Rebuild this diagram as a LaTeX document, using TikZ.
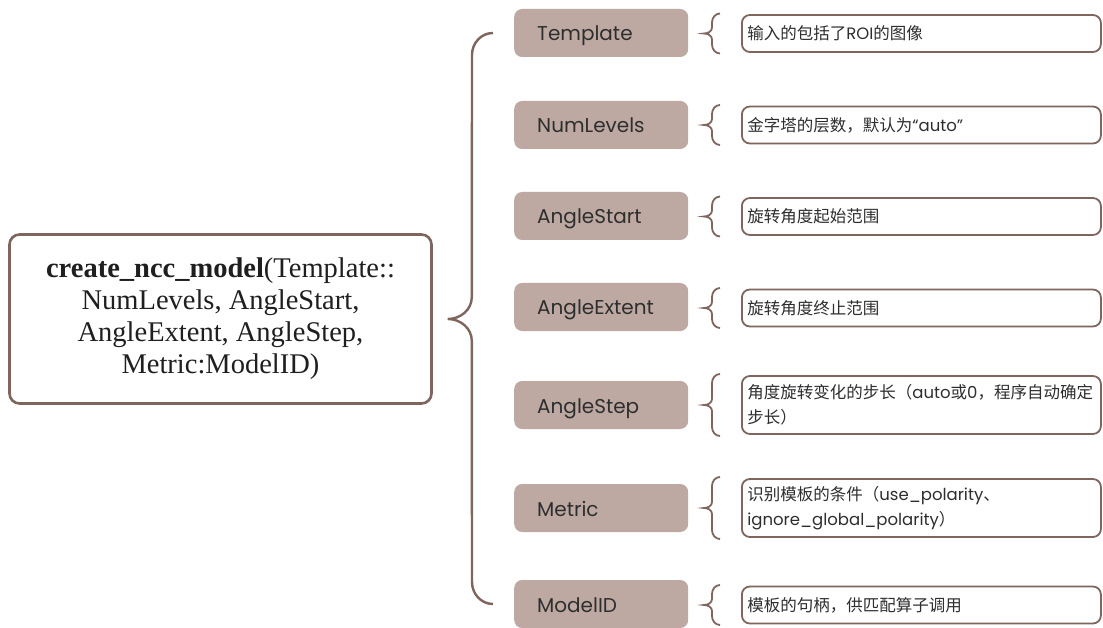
\documentclass[tikz,border=0pt]{standalone}
\usepackage{fontspec}
\setmainfont{Liberation Serif}
\newfontfamily\cjkfont{Noto Sans CJK SC}
\newfontfamily\popfont{Poppins}
\usetikzlibrary{calc}
\definecolor{rim}{HTML}{7E655D}
\definecolor{chip}{HTML}{BDA9A2}
\definecolor{ink}{HTML}{2E2E2E}
\newcommand{\la}[1]{{\popfont #1}}

\tikzset{
  mainbox/.style={draw=rim, line width=2.6pt, rounded corners=10pt, fill=white,
    minimum width=422pt, minimum height=169pt, align=center,
    font=\fontsize{28.5}{32}\selectfont, text=black!88},
  param/.style={fill=chip, rounded corners=8pt, text width=128pt, inner xsep=23pt,
    minimum height=48pt, align=left, font=\popfont\fontsize{20}{23}\selectfont,
    text height=18pt, text depth=2pt, text=ink, anchor=west},
  note/.style={draw=rim, line width=1.8pt, rounded corners=8pt, text width=348pt,
    inner xsep=5.5pt, align=left, font=\cjkfont\fontsize{16.5}{25}\selectfont,
    text=ink, anchor=west, minimum height=37pt},
  tallnote/.style={note, minimum height=58pt},
  bigbrace/.style={draw=rim, line width=2.4pt},
  smallbrace/.style={draw=rim, line width=1.8pt},
  pics/curly/.style={code={
    \draw[smallbrace] (8,-#1) to[out=180,in=90] (0,-#1+9) -- (0,-6)
      to[out=-90,in=0] (-8,0) to[out=0,in=90] (0,6) -- (0,#1-9)
      to[out=-90,in=180] (8,#1);
  }}
}

\begin{document}
\begin{tikzpicture}[x=1pt, y=-1pt]
\useasboundingbox[fill=white] (0,0) rectangle (1103,628);

% function signature
\node[mainbox] (main) at (220.5,319) {\textbf{create\_ncc\_model}(Template::\\
  NumLevels, AngleStart,\\ AngleExtent, AngleStep,\\ Metric:ModelID)};

% parameter chips
\node[param] (p1) at (514,33)  {Template};
\node[param] (p2) at (514,125) {NumLevels};
\node[param] (p3) at (514,216) {AngleStart};
\node[param] (p4) at (514,307) {AngleExtent};
\node[param] (p5) at (514,405) {AngleStep};
\node[param] (p6) at (514,508) {Metric};
\node[param] (p7) at (514,604) {ModelID};

% parameter descriptions
\node[note] (n1) at (741,33.5) {输入的包括了\la{ROI}的图像};
\node[note] (n2) at (741,125) {金字塔的层数，默认为\la{“auto”}};
\node[note] (n3) at (741,216.5) {旋转角度起始范围};
\node[note] (n4) at (741,308) {旋转角度终止范围};
\node[tallnote] (n5) at (741,405) {角度旋转变化的步长（\la{auto}或\la{0}，程序自动确定\\步长）};
\node[tallnote] (n6) at (741,508) {识别模板的条件（\la{use\_polarity}、\\\la{ignore\_global\_polarity}）};
\node[note] (n7) at (741,605) {模板的句柄，供匹配算子调用};

% small braces between chips and descriptions
\pic at ($(n1.west)+(-29,0)$) {curly=20};
\pic at ($(n2.west)+(-29,0)$) {curly=20};
\pic at ($(n3.west)+(-29,0)$) {curly=20};
\pic at ($(n4.west)+(-29,0)$) {curly=20};
\pic at ($(n5.west)+(-29,0)$) {curly=31};
\pic at ($(n6.west)+(-29,0)$) {curly=31};
\pic at ($(n7.west)+(-29,0)$) {curly=20};

% large brace from the signature to all parameters
\coordinate (tip) at ($(main.east)+(15,0)$);
\coordinate (top) at ($(p1.west)+(-21,0)$);
\coordinate (bot) at ($(p7.west)+(-21,0)$);
\draw[bigbrace] (top) to[out=180,in=90] ($(top)+(-21,22)$)
  -- ($(tip)+(24,-22)$) to[out=-90,in=0] (tip)
  to[out=0,in=90] ($(tip)+(24,22)$)
  -- ($(bot)+(-21,-22)$) to[out=-90,in=180] (bot);
\end{tikzpicture}
\end{document}
